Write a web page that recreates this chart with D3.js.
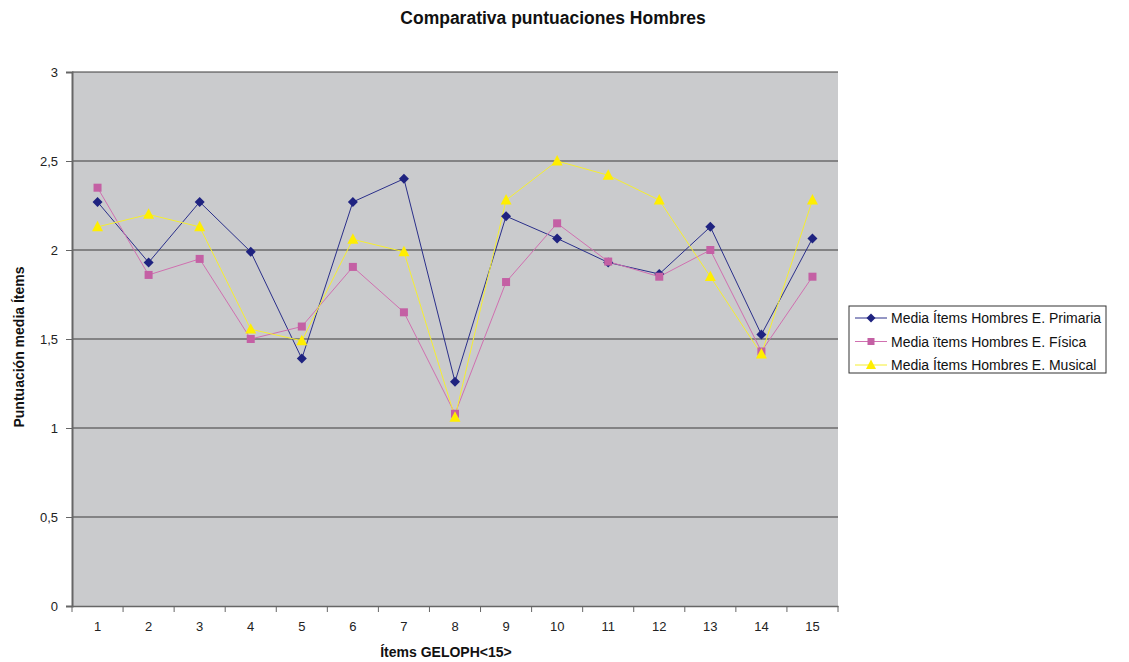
<!DOCTYPE html>
<html>
<head>
<meta charset="utf-8">
<script src="https://cdn.jsdelivr.net/npm/d3@7"></script>
<style>
  body { margin: 0; background: #fff; }
  svg { font-family: "Liberation Sans", Arial, sans-serif; }
</style>
</head>
<body>
<div id="chart"></div>
<script>
// data
var items = ["1","2","3","4","5","6","7","8","9","10","11","12","13","14","15"];
var primaria = [2.27, 1.93, 2.27, 1.99, 1.39, 2.27, 2.40, 1.26, 2.19, 2.065, 1.93, 1.865, 2.13, 1.525, 2.065];
var fisica   = [2.35, 1.86, 1.95, 1.50, 1.57, 1.905, 1.65, 1.08, 1.82, 2.15, 1.935, 1.85, 2.00, 1.43, 1.85];
var musical  = [2.13, 2.20, 2.13, 1.555, 1.49, 2.06, 1.99, 1.06, 2.28, 2.50, 2.42, 2.28, 1.85, 1.415, 2.28];
var yTicks = [0, 0.5, 1, 1.5, 2, 2.5, 3];

var series = [
  { name: "Media Ítems Hombres E. Primaria", values: primaria, line: "#2a2f8a", fill: "#1f2380", marker: "diamond" },
  { name: "Media ïtems Hombres E. Física", values: fisica, line: "#d070b0", fill: "#c460a4", marker: "square" },
  { name: "Media Ítems Hombres E. Musical", values: musical, line: "#f5ee30", fill: "#ffee00", marker: "triangle" }
];

var W = 1129, H = 662;
var m = { left: 72, top: 72, right: 838, bottom: 606 };

var svg = d3.select("#chart").append("svg").attr("width", W).attr("height", H);

var x = d3.scaleBand().domain(items).range([m.left, m.right]);
var y = d3.scaleLinear().domain([0, 3]).range([m.bottom, m.top]);

// plot background
svg.append("rect")
  .attr("x", m.left).attr("y", m.top)
  .attr("width", m.right - m.left).attr("height", m.bottom - m.top)
  .attr("fill", "#cacbcd");

// gridlines
svg.append("g").selectAll("line").data(yTicks.filter(function (d) { return d > 0; }))
  .join("line")
  .attr("x1", m.left).attr("x2", m.right)
  .attr("y1", function (d) { return y(d); }).attr("y2", function (d) { return y(d); })
  .attr("stroke", "#3c3c3c").attr("stroke-width", 1.2);

// y axis
var yAxis = svg.append("g").attr("transform", "translate(" + m.left + ",0)")
  .call(d3.axisLeft(y).tickValues(yTicks).tickSize(6).tickPadding(8)
    .tickFormat(function (d) { return String(d).replace(".", ","); }));
yAxis.select(".domain").attr("stroke", "#666").attr("stroke-width", 2);
yAxis.selectAll(".tick line").attr("stroke", "#666");
yAxis.selectAll("text").attr("font-size", 13).attr("fill", "#222");

// x axis: ticks at category boundaries
var xAxis = svg.append("g").attr("transform", "translate(0," + m.bottom + ")")
  .call(d3.axisBottom(x).tickSize(0).tickPadding(16));
xAxis.select(".domain").attr("stroke", "#666").attr("stroke-width", 1.5);
xAxis.selectAll("text").attr("font-size", 13).attr("fill", "#222");
xAxis.selectAll(".bnd").data(d3.range(items.length + 1)).join("line")
  .attr("x1", function (i) { return m.left + i * x.step(); })
  .attr("x2", function (i) { return m.left + i * x.step(); })
  .attr("y1", 0).attr("y2", 6)
  .attr("stroke", "#666");

function cx(i) { return x(items[i]) + x.bandwidth() / 2; }

function marker(g, type, fill, sz) {
  var h = sz / 2;
  if (type === "diamond") {
    g.append("path").attr("d", "M0," + (-h) + "L" + h + ",0L0," + h + "L" + (-h) + ",0Z").attr("fill", fill);
  } else if (type === "square") {
    g.append("rect").attr("x", -h).attr("y", -h).attr("width", sz).attr("height", sz).attr("fill", fill);
  } else {
    g.append("path").attr("d", "M0," + (-sz * 0.55) + "L" + h + "," + (sz * 0.4) + "L" + (-h) + "," + (sz * 0.4) + "Z").attr("fill", fill);
  }
}

var line = d3.line().x(function (d, i) { return cx(i); }).y(function (d) { return y(d); });

series.forEach(function (s) {
  svg.append("path").datum(s.values)
    .attr("d", line).attr("fill", "none")
    .attr("stroke", s.line).attr("stroke-width", 1);
});
series.forEach(function (s) {
  s.values.forEach(function (v, i) {
    var g = svg.append("g").attr("transform", "translate(" + cx(i) + "," + y(v) + ")");
    marker(g, s.marker, s.fill, s.marker === "square" ? 8 : (s.marker === "triangle" ? 11 : 10));
  });
});

// title
svg.append("text").attr("x", 553).attr("y", 24).attr("text-anchor", "middle")
  .attr("font-size", 17.5).attr("font-weight", "bold").attr("fill", "#111")
  .text("Comparativa puntuaciones Hombres");

// axis titles
svg.append("text").attr("x", 446).attr("y", 657).attr("text-anchor", "middle")
  .attr("font-size", 14).attr("font-weight", "bold").attr("fill", "#111")
  .text("Ítems GELOPH<15>");
svg.append("text").attr("transform", "translate(24,347) rotate(-90)").attr("text-anchor", "middle")
  .attr("font-size", 14).attr("font-weight", "bold").attr("fill", "#111")
  .text("Puntuación media Ítems");

// legend
var lg = svg.append("g").attr("transform", "translate(849,306)");
lg.append("rect").attr("width", 257).attr("height", 67).attr("fill", "#fff").attr("stroke", "#333");
series.forEach(function (s, i) {
  var row = lg.append("g").attr("transform", "translate(0," + (12 + i * 23.5) + ")");
  row.append("line").attr("x1", 6).attr("x2", 38).attr("stroke", s.line).attr("stroke-width", 1);
  var mk = row.append("g").attr("transform", "translate(22,0)");
  marker(mk, s.marker, s.fill, s.marker === "square" ? 7 : (s.marker === "triangle" ? 10 : 9));
  row.append("text").attr("x", 42).attr("y", 5).attr("font-size", 14).attr("fill", "#111")
    .text(s.name);
});
</script>
</body>
</html>
